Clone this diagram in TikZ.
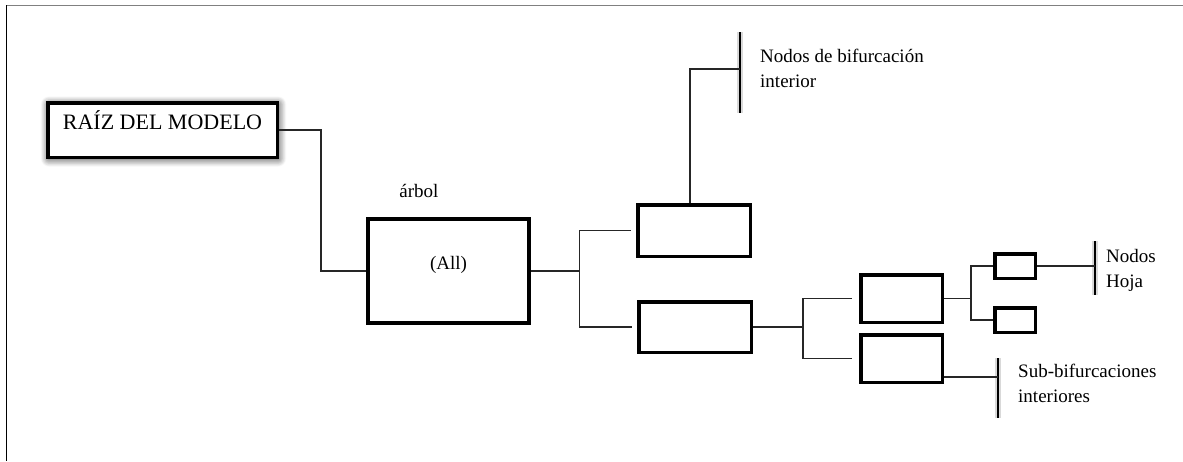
\documentclass[tikz,border=0pt]{standalone}
\usepackage{fontspec}
\setmainfont{Liberation Serif}
\usetikzlibrary{positioning,shadows.blur}

\begin{document}
\begin{tikzpicture}[x=1pt, y=-1pt]
% Define styles
\tikzstyle{rootbox} = [rectangle, draw=black, fill=white, line width=3.5pt, minimum width=229.5pt, minimum height=54.5pt, font=\fontsize{22}{26}\selectfont, blur shadow={shadow xshift=1pt, shadow yshift=-1.5pt, shadow blur radius=8pt, shadow opacity=85, shadow blur steps=12}]
\tikzstyle{box} = [rectangle, draw=black, fill=white, line width=3.5pt, inner sep=0pt, font=\fontsize{19}{25}\selectfont]
\tikzstyle{link} = [draw=black!85, line width=1.3pt]
\tikzstyle{bar} = [draw=black, line width=2pt, preaction={draw=gray, line width=6pt, opacity=0.3}]
\tikzstyle{note} = [font=\fontsize{19}{25}\selectfont, align=left, anchor=north west, inner sep=0pt]
% Frame
\useasboundingbox (0,0) rectangle (1183,461);
\draw [gray, line width=1.7pt] (6,5.5) -- (1183,5.5);
\draw [black, line width=1pt] (6.5,5) -- (6.5,461);
% Place nodes
\node (root) [rootbox, text height=15pt, text depth=17pt] at (162.5,130) {RAÍZ DEL MODELO};
\node (all) [box, minimum width=161pt, minimum height=104pt, text height=12pt, text depth=16pt] at (448.5,271) {(All)};
\node (arbol) [font=\fontsize{19}{25}\selectfont, anchor=base, inner sep=0pt] at (419,197) {árbol};
\node (b1) [box, minimum width=112.5pt, minimum height=51.5pt] at (694,230.5) {};
\node (b2) [box, minimum width=112.5pt, minimum height=50.5pt] at (695,327) {};
\node (c1) [box, minimum width=81.5pt, minimum height=47.5pt] at (901.5,298.5) {};
\node (c2) [box, minimum width=81.5pt, minimum height=47.5pt] at (901.5,358.5) {};
\node (d1) [box, minimum width=40.5pt, minimum height=24.5pt] at (1015,266) {};
\node (d2) [box, minimum width=40.5pt, minimum height=24.5pt] at (1015,320) {};
\node (tint) [note] at (760,49) {Nodos de bifurcación\\interior};
\node (thoja) [note] at (1106,249) {Nodos\\Hoja};
\node (tsub) [note] at (1018,364) {Sub-bifurcaciones\\interiores};
% Bar ends
\coordinate (ta) at (740,69);
\coordinate (tb) at (1095,266);
\coordinate (tc) at (998,377);
% Draw lines
\draw [bar] (740,32) -- (740,113);
\draw [bar] (1095,241) -- (1095,295);
\draw [bar] (998,358) -- (998,418);
\draw [link] (root.east) -- ++(42,0) |- (all.west);
\draw [link] (all.east) -- ++(49,0) coordinate (f1);
\draw [link, shorten >=5pt] (f1) |- (b1.west);
\draw [link, shorten >=5pt] (f1) |- (b2.west);
\draw [link] ([xshift=-4pt]b1.north) |- (ta);
\draw [link] (b2.east) -- ++(50,0) coordinate (f2);
\draw [link, shorten >=7pt] (f2) |- (c1.west);
\draw [link, shorten >=7pt] (f2) |- (c2.west);
\draw [link] (c1.east) -- ++(27,0) coordinate (f3);
\draw [link] (f3) |- (d1.west);
\draw [link] (f3) |- (d2.west);
\draw [link] (d1.east) -- (tb);
\draw [link] (c2.east |- tc) -- (tc);
\end{tikzpicture}
\end{document}
